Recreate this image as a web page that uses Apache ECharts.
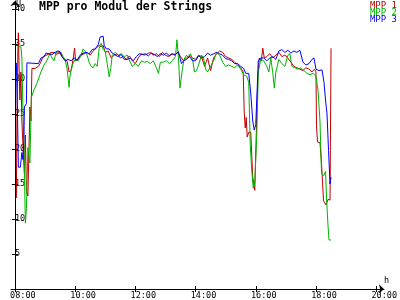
<!DOCTYPE html>
<html><head><meta charset="utf-8">
<script src="https://cdn.jsdelivr.net/npm/echarts@6/dist/echarts.min.js"></script>
<style>html,body{margin:0;padding:0;background:#fff}#c{width:400px;height:300px}</style>
</head><body><div id="c"></div>
<script>
// time values are minutes after 08:00
const timeTicks = [0,120,240,360,480,600,720];
const timeLabels = ['08:00','10:00','12:00','14:00','16:00','18:00','20:00'];
const voltTicks = [5,10,15,20,25,30,35,40];
const seriesNames = ['MPP 1','MPP 2','MPP 3'];
const colors = ['#c00000','#00b400','#0000ff'];

const mpp1 = [[3,13.0],[4,23],[6,34],[7,36.6],[8,33],[10,27],[12,31],[14,24],[17,19],[19,16.5],[21,22],[23,14],[26,13.3],[28,13.5],[30,26],[32,24],[34,31.5],[40,31.5],[47,31.8],[51,32.3],[55,33.0],[60,33.3],[66,33.5],[72,33.8],[78,33.8],[84,33.5],[88,34.0],[92,33.4],[98,32.8],[104,32.6],[108,31.0],[112,31.2],[116,32.8],[119,34.4],[121,32.6],[126,32.8],[132,33.4],[138,33.6],[144,33.8],[150,33.4],[156,34.0],[162,34.4],[168,34.8],[172,34.6],[176,34.8],[180,33.8],[186,34.0],[192,33.0],[198,33.4],[204,33.6],[210,33.0],[216,33.2],[222,32.8],[228,33.3],[234,32.6],[240,32.2],[246,33.0],[252,33.6],[258,33.4],[264,33.6],[270,33.8],[276,33.4],[282,33.6],[288,33.2],[294,33.8],[300,33.4],[306,33.2],[312,33.6],[318,33.4],[324,33.8],[330,33.2],[336,32.6],[342,33.0],[348,33.4],[354,33.0],[360,32.8],[366,33.4],[372,33.2],[378,31.8],[384,33.0],[390,31.2],[396,33.0],[402,33.6],[408,34.0],[414,33.8],[420,33.2],[426,33.0],[432,32.8],[438,32.4],[444,32.0],[450,31.6],[455,31.0],[457,25.3],[459,23.0],[461,24.5],[463,21.7],[466,22.4],[470,22.4],[474,16.0],[478,14.1],[481,14.2],[484,30.0],[487,33.0],[491,32.6],[494,34.4],[497,33.0],[502,33.2],[508,33.6],[514,33.0],[520,33.4],[526,33.8],[532,33.2],[538,33.4],[544,33.0],[550,32.4],[556,31.8],[562,31.6],[568,31.4],[574,31.2],[580,31.6],[586,31.4],[592,31.0],[597,31.4],[600,31.0],[601,23.4],[603,21.0],[608,20.9],[611,18.0],[615,12.6],[620,12.0],[624,12.8],[628,12.7],[630,34.4]];

const mpp2 = [[7,34.6],[12,34.6],[14,33.0],[16,26],[18,21],[20,13],[21,9.4],[23,11.5],[25,17],[26,20.2],[28,19],[30,18.0],[33,27.4],[38,28.4],[44,29.4],[48,30.2],[52,31.0],[58,32.0],[62,32.4],[66,33.0],[70,33.6],[74,33.0],[78,32.6],[82,33.8],[88,33.6],[92,33.8],[96,33.2],[100,32.8],[104,31.5],[108,28.8],[110,30.5],[113,31.5],[116,32.2],[120,32.8],[126,32.6],[132,33.4],[136,34.3],[140,34.0],[144,33.4],[148,32.4],[152,31.8],[156,31.6],[160,32.2],[164,31.8],[168,34.4],[172,35.1],[176,34.2],[180,34.0],[184,32.2],[188,30.3],[191,31.5],[194,33.4],[200,33.8],[206,33.4],[212,33.6],[218,33.2],[224,33.4],[230,32.4],[234,31.8],[240,32.2],[246,31.8],[252,32.6],[258,32.4],[264,32.5],[270,32.2],[276,32.6],[282,31.6],[286,30.8],[290,32.4],[296,32.4],[302,32.6],[308,32.2],[314,32.6],[320,33.2],[323,35.6],[326,33.0],[329,28.7],[333,31.0],[337,32.8],[342,33.4],[346,33.0],[350,33.6],[354,32.8],[358,31.0],[362,31.2],[366,32.0],[372,33.4],[376,33.0],[380,31.4],[384,31.0],[390,31.8],[396,32.6],[402,33.8],[408,33.4],[414,32.4],[420,31.8],[426,32.0],[432,31.8],[438,31.6],[444,32.0],[450,31.4],[456,30.6],[462,30.4],[466,29.5],[469,20.5],[472,17.0],[475,14.4],[478,15.0],[482,22.0],[485,31.0],[490,32.8],[496,32.6],[502,31.8],[506,31.0],[510,33.0],[514,30.8],[517,28.7],[520,31.0],[526,32.8],[532,32.2],[538,31.8],[544,33.4],[548,33.6],[552,31.8],[558,31.6],[564,31.4],[570,31.6],[576,31.2],[582,30.8],[588,30.6],[594,30.8],[600,30.4],[604,28.4],[608,24.0],[611,16.5],[615,16.2],[619,16.8],[621,13.0],[624,9.0],[626,7.0],[630,7.0]];

const mpp3 = [[3,32.3],[5,26],[7,17.4],[11,17.4],[14,19.5],[16,18.5],[18,21.2],[19,26],[23,26.5],[24,32.3],[47,32.2],[52,33.0],[58,33.2],[62,33.7],[68,33.6],[74,33.5],[80,33.8],[86,34.0],[90,33.9],[94,33.2],[100,32.6],[106,32.8],[112,32.6],[118,33.0],[124,32.7],[130,33.4],[136,33.7],[142,33.8],[148,33.6],[154,34.2],[160,34.3],[166,34.9],[170,36.0],[176,36.1],[178,34.8],[182,34.3],[188,34.3],[194,33.7],[200,33.4],[206,33.2],[212,33.5],[218,32.8],[224,32.8],[230,33.0],[236,32.6],[242,33.2],[248,33.6],[254,33.5],[260,33.6],[266,33.3],[272,33.7],[278,33.5],[284,33.2],[290,33.6],[296,33.4],[302,33.7],[308,33.3],[314,33.6],[320,33.5],[326,33.9],[332,32.2],[336,32.6],[342,32.8],[348,33.2],[354,32.6],[360,32.6],[366,33.3],[372,33.0],[378,33.2],[384,33.7],[390,33.4],[396,33.6],[402,33.8],[408,33.6],[414,33.4],[420,32.9],[426,32.8],[432,32.6],[438,32.2],[444,32.2],[450,31.8],[456,31.5],[460,30.8],[466,30.8],[470,28.0],[474,24.0],[477,22.7],[480,23.5],[482,27.0],[485,32.6],[490,33.0],[496,33.0],[502,32.6],[508,33.0],[514,33.2],[520,32.8],[526,34.0],[532,34.2],[538,33.8],[544,34.1],[550,33.7],[556,34.0],[562,33.8],[568,34.1],[574,32.4],[580,32.0],[586,32.2],[592,32.8],[596,33.0],[600,31.4],[606,31.2],[612,31.3],[616,29.5],[619,27.0],[622,25.0],[625,19.8],[628,15.0],[630,16.0]];

const FONT = 'DejaVu Sans Mono';
const chart = echarts.init(document.getElementById('c'), null, {renderer:'canvas'});
const xMin = -7.7, xMax = 735.4, yMax = 41.14;
const axisLineX = {show:true, lineStyle:{color:'#000', width:1}, symbol:['none','arrow'], symbolSize:[7,5]};
const axisLineY = {show:true, lineStyle:{color:'#000', width:1}, symbol:['none','arrow'], symbolSize:[7,5]};
chart.setOption({
  animation:false,
  backgroundColor:'#fff',
  title:{text:'MPP pro Modul der Strings', left:39, top:0, padding:[1,0,0,0],
    textStyle:{fontFamily:FONT, fontWeight:'bold', fontSize:11.5, color:'#000'}},
  legend:{orient:'vertical', right:3, top:1.5, padding:0, itemGap:-2, itemWidth:0, itemHeight:0,
    icon:'rect', selectedMode:false, align:'left',
    textStyle:{fontFamily:FONT, fontSize:9, lineHeight:7.3, padding:0},
    data:seriesNames.map((n,i)=>({name:n, textStyle:{color:colors[i]}}))},
  grid:{left:11, right:2, top:1, bottom:11},
  xAxis:[{type:'value', min:xMin, max:xMax, position:'bottom',
    axisLine:axisLineX, splitLine:{show:false},
    axisTick:{show:true, inside:false, length:3, customValues:timeTicks, lineStyle:{color:'#000'}},
    axisLabel:{show:true, customValues:timeTicks, margin:2, padding:[0,0,0,16],
      fontFamily:FONT, fontSize:8.5, color:'#000',
      formatter:v=>timeLabels[timeTicks.indexOf(v)]}},
   {type:'value', min:xMin, max:xMax, position:'bottom', axisLine:{show:false}, splitLine:{show:false},
    axisTick:{show:true, inside:true, length:3, customValues:timeTicks, lineStyle:{color:'#000'}},
    axisLabel:{show:false}}],
  yAxis:[{type:'value', min:0, max:yMax, position:'left',
    axisLine:axisLineY, splitLine:{show:false},
    axisTick:{show:true, inside:false, length:3, customValues:voltTicks, lineStyle:{color:'#000'}},
    axisLabel:{show:true, inside:true, margin:4, customValues:voltTicks, padding:[3,0,0,0],
      fontFamily:FONT, fontSize:8.5, color:'#000'}},
   {type:'value', min:0, max:yMax, position:'left', axisLine:{show:false}, splitLine:{show:false},
    axisTick:{show:true, inside:true, length:3, customValues:voltTicks, lineStyle:{color:'#000'}},
    axisLabel:{show:false}}],
  graphic:[
    {type:'text', left:16, top:0, style:{text:'U', font:'8.5px "DejaVu Sans Mono"', fill:'#000'}},
    {type:'text', left:384, top:276, style:{text:'h', font:'8.5px "DejaVu Sans Mono"', fill:'#000'}}
  ],
  series:[mpp1,mpp2,mpp3].map((d,i)=>({
    name:seriesNames[i], type:'line', data:d.map(p=>[p[0],p[1]]), showSymbol:false, symbol:'none',
    lineStyle:{width:1, color:colors[i]}, itemStyle:{color:colors[i]}, xAxisIndex:0, yAxisIndex:0, z:2+i
  }))
});
</script></body></html>
